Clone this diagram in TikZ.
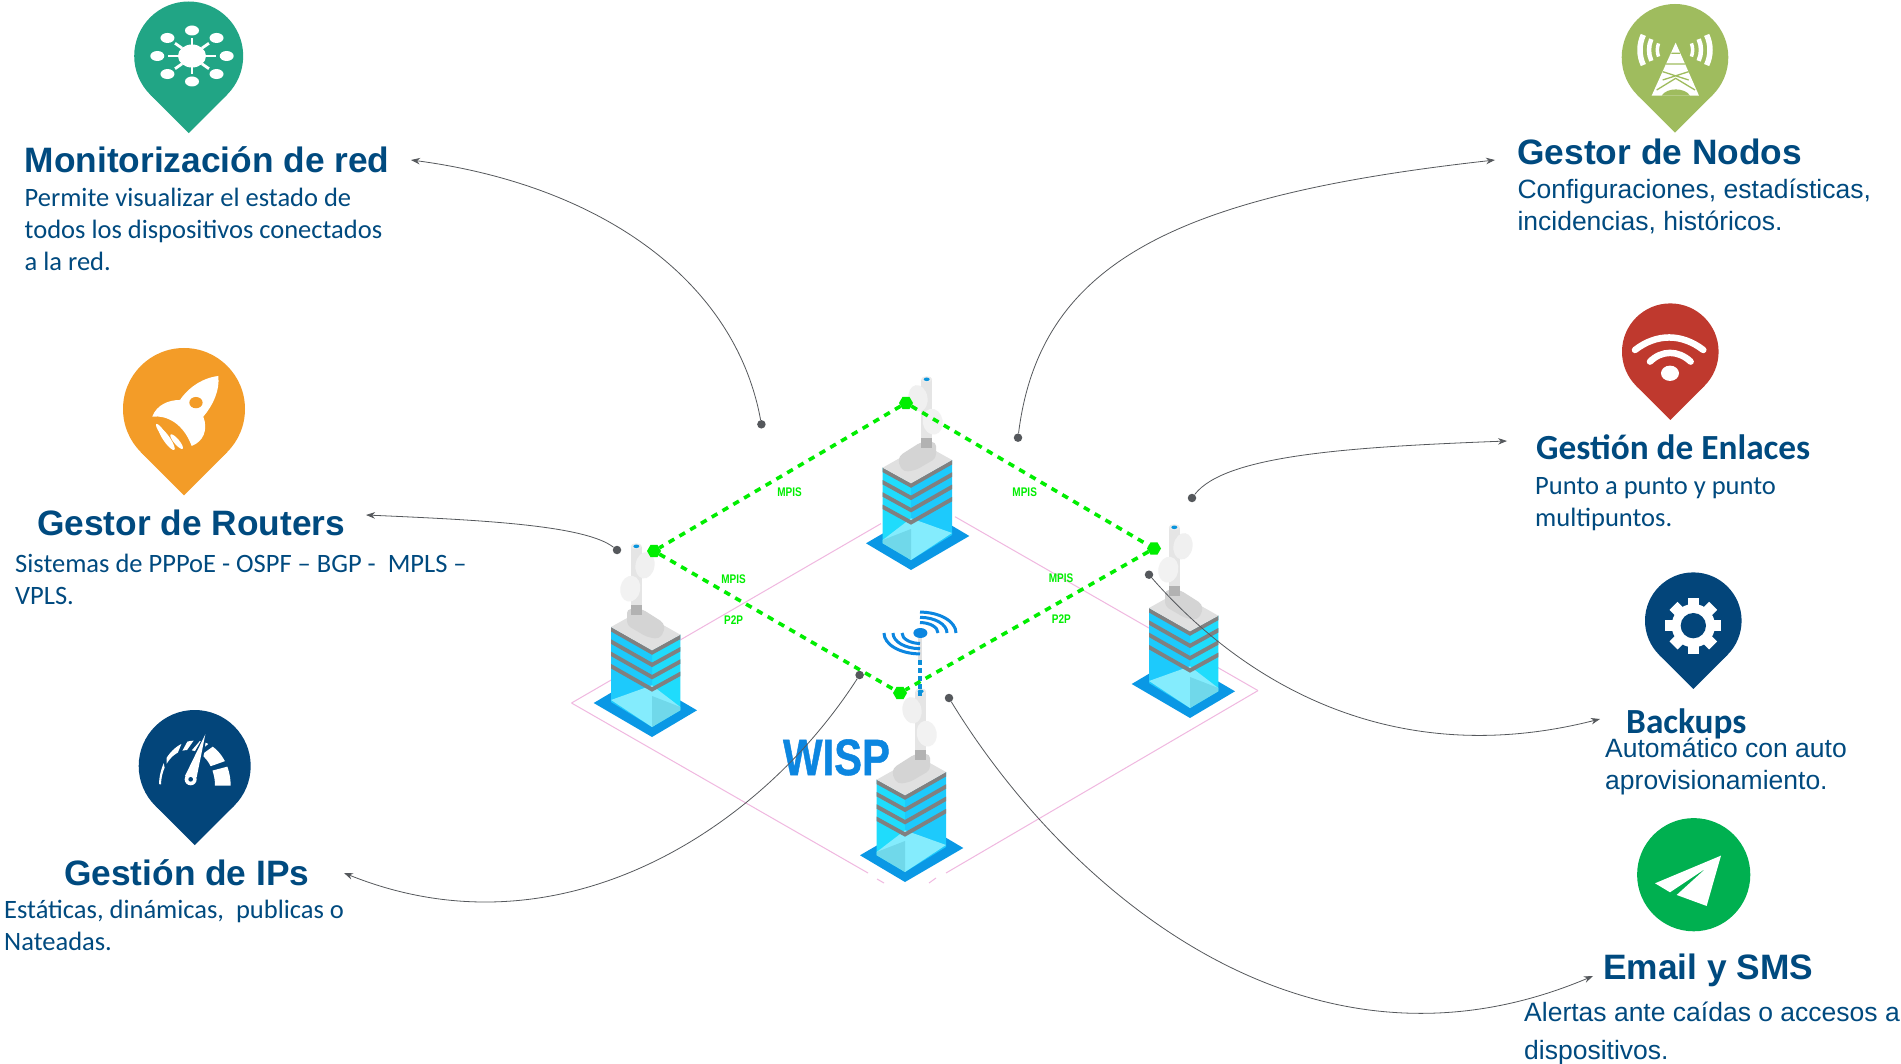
\documentclass[tikz,border=0pt]{standalone}
\usepackage{fontspec}
\setmainfont{Liberation Sans}
\newfontfamily\carlitofont{Carlito}
\newfontfamily\wispfont[UprightFont=* Bold,FakeBold=1]{Liberation Sans}
\usetikzlibrary{arrows.meta,shapes.geometric}
\definecolor{navy}{HTML}{004A7F}
\definecolor{pinnavy}{HTML}{03457A}
\definecolor{pinteal}{HTML}{21A585}
\definecolor{pinorange}{HTML}{F39C28}
\definecolor{pingreen}{HTML}{9FBC5E}
\definecolor{pinred}{HTML}{BF392E}
\definecolor{pinmail}{HTML}{00B050}
\definecolor{netgreen}{HTML}{00EE00}
\definecolor{wispblue}{HTML}{0C86E0}
\definecolor{pinkline}{HTML}{F0B8E0}
\definecolor{leadgray}{HTML}{55585C}
\definecolor{cyanface}{HTML}{1FDCFC}
\newcommand\pinbody[4]{\begin{scope}[shift={(#1,#2)},scale=#3]
  \fill[#4] (0,0) circle[radius=1];
  \fill[#4] (0,1.414)--(.707,.707)--(-.707,.707)--cycle;
\end{scope}}
\newcommand\firstl{\rule{0pt}{24pt}}
\tikzset{
  x=1pt,y=-1pt,
  txt/.style={anchor=north west,inner sep=0pt,text=navy,align=left},
  calbody/.style={txt,font=\carlitofont\fontsize{26.5}{32}\selectfont},
  arialbody/.style={txt,font=\fontsize{26.5}{32}\selectfont},
  ttl/.style={anchor=base west,inner sep=0pt,text=navy,font=\fontsize{35.3}{40}\selectfont\bfseries},
  ttlcal/.style={anchor=base west,inner sep=0pt,text=navy,font=\carlitofont\fontsize{35.3}{40}\selectfont\bfseries},
  dotn/.style={circle,fill=leadgray,inner sep=0pt,minimum size=8.5pt},
  leader/.style={draw=leadgray,line width=.8pt,-{Stealth[length=9pt,width=6.5pt]}},
  hexn/.style={regular polygon,regular polygon sides=6,fill=netgreen,inner sep=0pt,minimum size=14pt},
  netlink/.style={draw=netgreen,line width=3.6pt,dash pattern=on 6.5pt off 6pt},
  pinkl/.style={draw=pinkline,line width=1pt},
  netlabel/.style={inner sep=0pt,text=netgreen,font=\fontsize{12.5}{14}\selectfont\bfseries},
  tower/.pic={
    \fill[wispblue!85!cyan] (0,0)--(58.3,-34)--(13.3,-60.7)--(-45,-26.7)--cycle;
    \fill[cyanface] (-28.3,-102.3)--(0,-86.7)--(0,-10)--(-28.3,-26.7)--cycle;
    \fill[cyanface!92!blue] (0,-86.7)--(41,-110)--(41,-35)--(0,-10)--cycle;
    \fill[white!45!cyanface] (0,-51.7)--(41,-37)--(0,-10)--(-28.3,-30)--cycle;
    \fill[white!35!cyanface!85!gray] (-28.3,-30)--(0,-41)--(0,-10)--(-28.3,-26.7)--cycle;
    \foreach \k in {0,1,2,3}{
      \fill[gray] (-28.3,-102.3+12.3*\k)--(0,-86.7+12.3*\k)--(41,-110+12.3*\k)--(41,-105.5+12.3*\k)--(0,-82.2+12.3*\k)--(-28.3,-97.8+12.3*\k)--cycle;}
    \fill[black!12] (-28.3,-102.3)--(0,-86.7)--(41,-110)--(13,-125.6)--cycle;
    \fill[black!17,rounded corners=4pt] (-12,-114)--(10,-128)--(25,-128)--(25,-111.7)--(5,-100)--(-7,-98)--(-12.5,-106)--cycle;
    \fill[black!30] (10,-133) rectangle (21,-122);
    \fill[black!10] (10,-190) rectangle (21,-132);
    \fill[black!8] (15.7,-190.7) ellipse[x radius=5.5,y radius=3];
    \fill[cyan!80!blue] (15.7,-190.7) ellipse[x radius=3,y radius=1.8];
    \fill[black!6,rotate around={10:(7,-171.7)}] (7,-171.7) ellipse[x radius=9.5,y radius=13.3];
    \fill[black!5,rotate around={10:(21.7,-148.3)}] (21.7,-148.3) ellipse[x radius=10,y radius=13];
  }
}
\begin{document}
\begin{tikzpicture}
\useasboundingbox (0,0) rectangle (1901,1064);
\fill[white] (0,0) rectangle (1901,1064);
% pink floor
\coordinate (fL) at (571.5,703); \coordinate (fR) at (1258,690.6);
\coordinate (fTl) at (881,523.6); \coordinate (fTr) at (955,516.7);
\coordinate (fBl) at (868,873); \coordinate (fBr) at (946,873);
\draw[pinkl] (fL)--(fTl);
\draw[pinkl] (fTr)--(fR);
\draw[pinkl] (fL)--(fBl);
\draw[pinkl] (fBr)--(fR);
\coordinate (fS1) at (877,879); \coordinate (fS2) at (884,883);
\coordinate (fS3) at (929,883); \coordinate (fS4) at (936,878);
\draw[pinkl] (fS1)--(fS2);
\draw[pinkl] (fS3)--(fS4);
% towers
\pic at (911,570) {tower};
\pic[xscale=-1] at (652,737) {tower};
\pic[xscale=-1] at (1190,718) {tower};
\pic at (905,882) {tower};
% wisp antenna
\fill[black!12] (918,638) rectangle (922,662);
\draw[cyan!75!blue,line width=4pt,dash pattern=on 5pt off 3pt] (920,660)--(920,696);
\begin{scope}[shift={(920,633)},yscale=.58]
  \foreach \r in {18,27,36}{
    \draw[wispblue,line width=3pt] (-\r,0) arc[start angle=180,end angle=90,radius=\r];
    \draw[wispblue,line width=3pt] (\r,0) arc[start angle=0,end angle=-90,radius=\r];
  }
\end{scope}
\fill[wispblue] (920.4,633) ellipse[x radius=7,y radius=5];
\node[inner sep=0pt,text=wispblue,anchor=base] (wisp) at (836.5,775) {\scalebox{.82}[1]{\wispfont\fontsize{51}{54}\selectfont WISP}};
% green net
\node[hexn] (gT) at (906,403) {};
\node[hexn] (gL) at (654,551) {};
\node[hexn] (gR) at (1154,548.5) {};
\node[hexn] (gB) at (900,693) {};
\draw[netlink] (gT)--(gR);
\draw[netlink] (gT)--(gL);
\draw[netlink] (gL)--(gB);
\draw[netlink] (gR)--(gB);
\node[netlabel] (m1) at (789.6,492) {\scalebox{.8}[1]{MPIS}};
\node[netlabel] (m2) at (1024.7,492) {\scalebox{.8}[1]{MPIS}};
\node[netlabel] (m3) at (733.6,579) {\scalebox{.8}[1]{MPIS}};
\node[netlabel] (m4) at (1061,578) {\scalebox{.8}[1]{MPIS}};
\node[netlabel] (p1) at (733.6,620) {\scalebox{.8}[1]{P2P}};
\node[netlabel] (p2) at (1061.4,619) {\scalebox{.8}[1]{P2P}};
% leaders
\node[dotn] (d1) at (761.4,424.3) {}; \coordinate (a1) at (411,160);
\node[dotn] (d2) at (1018,437.7) {}; \coordinate (a2) at (1495,160);
\node[dotn] (d3) at (1192,498) {}; \coordinate (a3) at (1507,441);
\node[dotn] (d4) at (617,550) {}; \coordinate (a4) at (366,515);
\node[dotn] (d5) at (1149,574.7) {}; \coordinate (a5) at (1600,719);
\node[dotn] (d6) at (859.6,675) {}; \coordinate (a6) at (344,873);
\node[dotn] (d7) at (949,698) {}; \coordinate (a7) at (1593,976);
\draw[leader] (d1) .. controls (735,280) and (600,185) .. (a1);
\draw[leader] (d2) .. controls (1040,260) and (1180,195) .. (a2);
\draw[leader] (d3) .. controls (1225,455) and (1350,447) .. (a3);
\draw[leader] (d4) .. controls (585,525) and (480,520) .. (a4);
\draw[leader] (d5) .. controls (1250,690) and (1400,770) .. (a5);
\draw[leader] (d6) .. controls (760,830) and (560,960) .. (a6);
\draw[leader] (d7) .. controls (1060,880) and (1300,1100) .. (a7);
% pins
\pinbody{188.7}{56}{54.5}{pinteal}
\pinbody{184}{409}{61}{pinorange}
\pinbody{194.7}{766}{56}{pinnavy}
\pinbody{1675}{57.3}{53.3}{pingreen}
\pinbody{1670.3}{351.7}{48.3}{pinred}
\pinbody{1693.3}{620.7}{48.3}{pinnavy}
\fill[pinmail] (1693.7,874.7) circle[radius=56.6];
% network icon
\begin{scope}[shift={(192,56)}]
  \fill[white] (0,0) ellipse[x radius=14,y radius=11.5];
  \foreach \a in {0,45,...,315}{
    \draw[white,line width=2.8pt] ({14*cos(\a)},{11*sin(\a)}) -- ({24*cos(\a)},{18*sin(\a)});
    \fill[white] ({34.7*cos(\a)},{25.5*sin(\a)}) ellipse[x radius=7,y radius=5];
  }
\end{scope}
% rocket
\begin{scope}[scale=.3333]
  \fill[white] (655,1128) .. controls (600,1135) and (560,1170) .. (540,1200) .. controls (505,1200) and (470,1215) .. (457,1250) .. controls (500,1245) and (550,1270) .. (575,1338) .. controls (610,1325) and (625,1290) .. (610,1250) .. controls (640,1215) and (660,1170) .. (655,1128) -- cycle;
  \fill[pinorange] (588,1208) ellipse[x radius=20,y radius=17];
  \fill[white,rotate around={-55:(485,1295)}] (485,1295) ellipse[x radius=28,y radius=7];
  \fill[white,rotate around={-55:(500,1317)}] (500,1317) ellipse[x radius=40,y radius=10];
  \fill[white,rotate around={-50:(530,1325)}] (530,1325) ellipse[x radius=28,y radius=8];
\end{scope}
% gauge
\begin{scope}[shift={(100,690)},scale=.3333]
  \foreach \s/\e in {0/25,33/60,68/82,92/102,112/142,150/178}{
    \fill[white] plot[domain=\s:\e,samples=8] ({284.5+107.5*cos(\x)},{287-135*sin(\x)}) -- plot[domain=\e:\s,samples=8] ({264+81*cos(\x)},{287-107*sin(\x)}) -- cycle;
  }
  \fill[pinnavy] (322,120) -- (300,270) -- (240,262) -- cycle;
  \fill[white] (316,133) -- (290,262) -- (255,258) -- cycle;
  \fill[white] (272,268) circle[radius=18];
  \fill[pinnavy] (272,268) circle[radius=7];
\end{scope}
% tower icon
\begin{scope}[shift={(1500,0)},scale=.3333]
  \fill[white] (527,128) -- (597,287) -- (455,287) -- cycle;
  \draw[pingreen,line width=1.3pt] (498,192)--(556,192) (488,215)--(566,240) (566,215)--(488,240) (470,270)--(527,235)--(585,270) (514,160)--(540,160);
  \fill[pingreen] (485,287) .. controls (500,262) and (555,262) .. (570,287) -- cycle;
  \foreach \r/\w/\g in {55/3.5/21,80/4.5/24,107/5.5/25}{
    \draw[white,line width=\w pt] ([shift={(527,150)}]180-\g:\r) arc[start angle=180-\g,end angle=180+\g,radius=\r];
    \draw[white,line width=\w pt] ([shift={(523,150)}]\g:\r) arc[start angle=\g,end angle=-\g,radius=\r];
  }
\end{scope}
% wifi
\begin{scope}[shift={(1500,0)},scale=.3333]
  \draw[white,line width=6.5pt,line cap=round] (405,1050) .. controls (470,1000) and (545,1000) .. (610,1050);
  \draw[white,line width=6.5pt,line cap=round] (450,1085) .. controls (485,1050) and (535,1050) .. (572,1085);
  \fill[white] (510,1120) ellipse[x radius=27,y radius=23];
\end{scope}
% gear
\begin{scope}[shift={(1550,560)},scale=.3333]
  \fill[white] (430,197) circle[radius=65];
  \foreach \a in {0,45,...,315}{
    \fill[white,rotate around={\a:(430,197)}] (413,113) rectangle (447,150);
  }
  \fill[pinnavy] (430,197) circle[radius=38];
\end{scope}
% plane
\begin{scope}[shift={(1550,560)},scale=.3333]
  \fill[white] (513,887)--(315,970)--(360,997)--(468,925)--(380,1005)--(470,1038)--cycle;
\end{scope}
% texts
\node[ttl] (t1) at (24.5,172.7) {Monitorización de red};
\node[calbody] (b1) at (24.5,182) {\firstl Permite visualizar el estado de\\todos los dispositivos conectados\\a la red.};
\node[ttl] (t2) at (1517.3,165) {Gestor de Nodos};
\node[arialbody] (b2) at (1517.3,174) {\firstl Configuraciones, estadísticas,\\incidencias, históricos.};
\node[ttl] (t3) at (37,535) {Gestor de Routers};
\node[calbody] (b3) at (15,548) {\firstl Sistemas de PPPoE - OSPF – BGP -\ \ MPLS –\\VPLS.};
\node[ttl] (t4) at (64,885) {Gestión de IPs};
\node[calbody] (b4) at (4,894) {\firstl Estáticas, dinámicas,\ \ publicas o\\Nateadas.};
\node[ttlcal] (t5) at (1536,459.5) {Gestión de Enlaces};
\node[calbody] (b5) at (1535,470) {\firstl Punto a punto y punto\\multipuntos.};
\node[ttlcal] (t6) at (1626,733.5) {Backups};
\node[arialbody] (b6) at (1605,733.5) {\firstl Automático con auto\\aprovisionamiento.};
\node[ttl] (t7) at (1603,979) {Email y SMS};
\node[arialbody,font=\fontsize{26.5}{38}\selectfont] (b7) at (1524,997.5) {\firstl Alertas ante caídas o accesos a\\dispositivos.};
\end{tikzpicture}
\end{document}
